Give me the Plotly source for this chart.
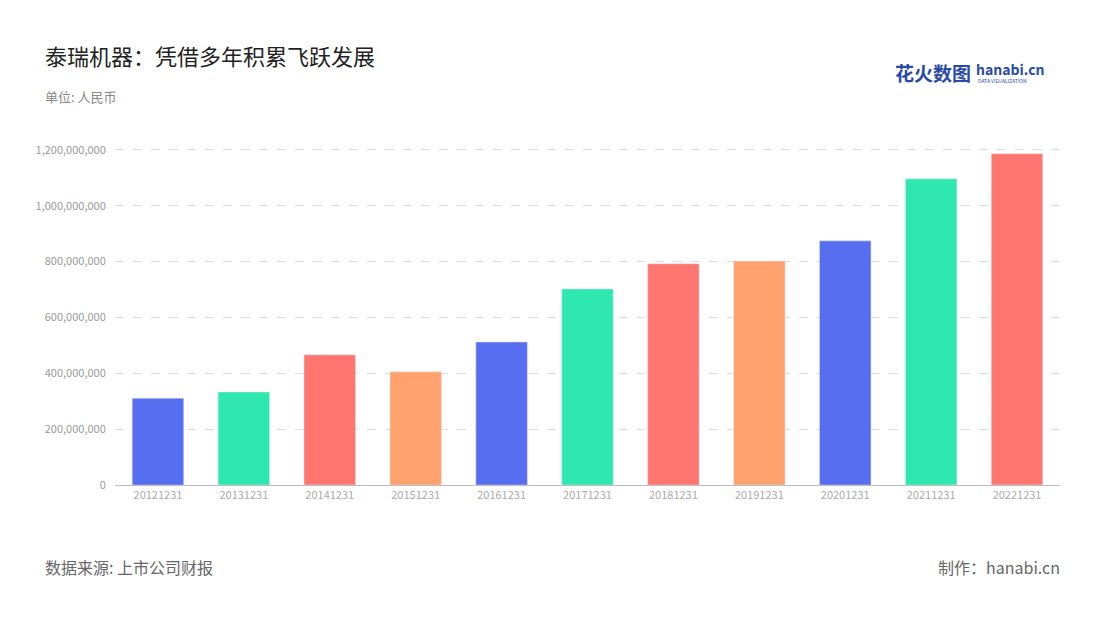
import plotly.graph_objects as go

categories = ["20121231","20131231","20141231","20151231","20161231","20171231","20181231","20191231","20201231","20211231","20221231"]
values = [311e6, 333e6, 466e6, 405e6, 512e6, 702e6, 792e6, 802e6, 874e6, 1096e6, 1186e6]
palette = ["#566EEF", "#2EE8B0", "#FF7570", "#FFA26E"]
colors = [palette[i % 4] for i in range(len(categories))]
tickvals = [0, 200e6, 400e6, 600e6, 800e6, 1000e6, 1200e6]
ticktext = ["0", "200,000,000", "400,000,000", "600,000,000", "800,000,000", "1,000,000,000", "1,200,000,000"]

font = "Noto Sans CJK SC"
OFF = 8  # page body offset
L, R, T, B = 115 - OFF, 1100 - 1060 + OFF, 147 - OFF, 620 - 485 + OFF
fig = go.Figure(go.Bar(x=categories, y=values, marker_color=colors, width=0.6))
fig.update_layout(
    width=1100, height=620, paper_bgcolor="white", plot_bgcolor="white",
    margin=dict(l=L, r=R, t=T, b=B),
    font=dict(family=font, color="#999"),
    showlegend=False,
    xaxis=dict(type="category", showline=True, linecolor="#bbb", ticks="", tickfont=dict(size=11, color="#aaa")),
    yaxis=dict(range=[0, 1.21e9], tickvals=tickvals, ticktext=ticktext, showgrid=True, gridcolor="#ddd",
               griddash="dash", zeroline=False, tickfont=dict(size=11, color="#999"),
               showline=False, ticks="outside", ticklen=6, tickcolor="rgba(0,0,0,0)"),
)
anns = [
    dict(text="泰瑞机器：凭借多年积累飞跃发展", x=43, y=55, size=22, color="#222", anchor="left"),
    dict(text="单位: 人民币", x=43, y=96, size=13, color="#888", anchor="left"),
    dict(text="数据来源: 上市公司财报", x=43, y=567, size=16, color="#666", anchor="left"),
    dict(text="制作：hanabi.cn", x=1062, y=567, size=16, color="#666", anchor="right"),
    dict(text="<b>花火数图</b>", x=973, y=72, size=19, color="#2a4aa8", anchor="right"),
    dict(text="<b>hanabi.cn</b>", x=974, y=69, size=14, color="#2a4aa8", anchor="left"),
    dict(text="DATA VISUALIZATION", x=976, y=80, size=5, color="#2a4aa8", anchor="left"),
]
pw, ph = 1100 - L - R, 620 - T - B
for a in anns:
    px, py = a["x"] - OFF, a["y"] - OFF
    fig.add_annotation(text=a["text"], x=(px - L) / pw, y=1 - (py - T) / ph, xref="paper", yref="paper",
                       showarrow=False, xanchor=a["anchor"], yanchor="middle",
                       font=dict(size=a["size"], color=a["color"], family=font))
fig.write_html("out.html")
